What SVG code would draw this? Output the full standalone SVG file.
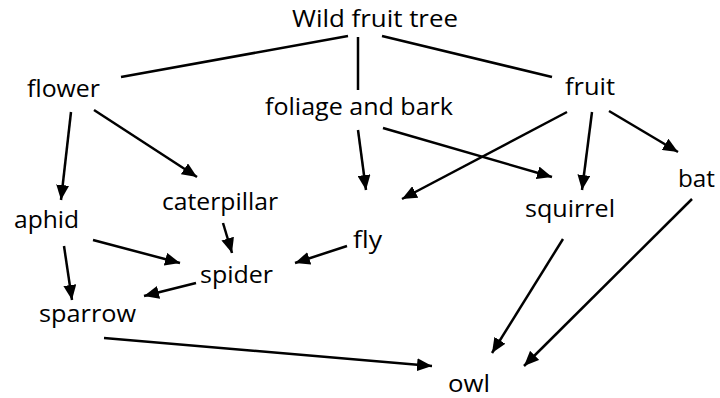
<svg xmlns="http://www.w3.org/2000/svg" width="720" height="398" viewBox="0 0 720 398">
<style>
text{font-family:"Open Sans","Liberation Sans",sans-serif;font-size:24px;fill:#000}
.c line{stroke:#000;stroke-width:2.5;fill:none}
.a{marker-end:url(#ah)}
</style>
<defs>
<marker id="ah" markerUnits="userSpaceOnUse" markerWidth="15" markerHeight="13" refX="15" refY="6.5" orient="auto">
<path d="M0,0 L15,6.5 L0,13 z" fill="#000"/>
</marker>
</defs>
<rect width="720" height="398" fill="#fff"/>
<g class="c" id="connectors">
<line x1="348" y1="36" x2="121" y2="77"/>
<line x1="358" y1="37" x2="358" y2="90"/>
<line x1="382" y1="36" x2="552" y2="77"/>
<line class="a" x1="71" y1="112" x2="61" y2="200"/>
<line class="a" x1="94" y1="110" x2="197" y2="177"/>
<line class="a" x1="358" y1="130" x2="366" y2="190"/>
<line class="a" x1="383" y1="128" x2="552" y2="177"/>
<line class="a" x1="567" y1="112" x2="402" y2="199"/>
<line class="a" x1="592" y1="112" x2="582" y2="190"/>
<line class="a" x1="609" y1="111" x2="678" y2="152"/>
<line class="a" x1="93" y1="240" x2="180" y2="263"/>
<line class="a" x1="64" y1="246" x2="72" y2="300"/>
<line class="a" x1="223" y1="223" x2="232" y2="253"/>
<line class="a" x1="347" y1="246" x2="295" y2="263"/>
<line class="a" x1="196" y1="283" x2="144" y2="296"/>
<line class="a" x1="104" y1="338" x2="432" y2="366"/>
<line class="a" x1="563" y1="239" x2="492" y2="353"/>
<line class="a" x1="692" y1="199" x2="524" y2="366"/>
</g>
<g id="wild"><text x="292" y="27" textLength="166" lengthAdjust="spacingAndGlyphs">Wild fruit tree</text></g>
<g id="flower"><text x="27" y="97" textLength="73" lengthAdjust="spacingAndGlyphs">flower</text></g>
<g id="foliage"><text x="265" y="115" textLength="188" lengthAdjust="spacingAndGlyphs">foliage and bark</text></g>
<g id="fruit"><text x="565" y="95" textLength="50" lengthAdjust="spacingAndGlyphs">fruit</text></g>
<g id="aphid"><text x="14" y="228" textLength="65" lengthAdjust="spacingAndGlyphs">aphid</text></g>
<g id="caterpillar"><text x="162" y="210" textLength="116" lengthAdjust="spacingAndGlyphs">caterpillar</text></g>
<g id="fly"><text x="353" y="248" textLength="29" lengthAdjust="spacingAndGlyphs">fly</text></g>
<g id="squirrel"><text x="525" y="217" textLength="90" lengthAdjust="spacingAndGlyphs">squirrel</text></g>
<g id="bat"><text x="678" y="187" textLength="37" lengthAdjust="spacingAndGlyphs">bat</text></g>
<g id="spider"><text x="200" y="283" textLength="73" lengthAdjust="spacingAndGlyphs">spider</text></g>
<g id="sparrow"><text x="39" y="322" textLength="97" lengthAdjust="spacingAndGlyphs">sparrow</text></g>
<g id="owl"><text x="448" y="392" textLength="42" lengthAdjust="spacingAndGlyphs">owl</text></g>
</svg>
